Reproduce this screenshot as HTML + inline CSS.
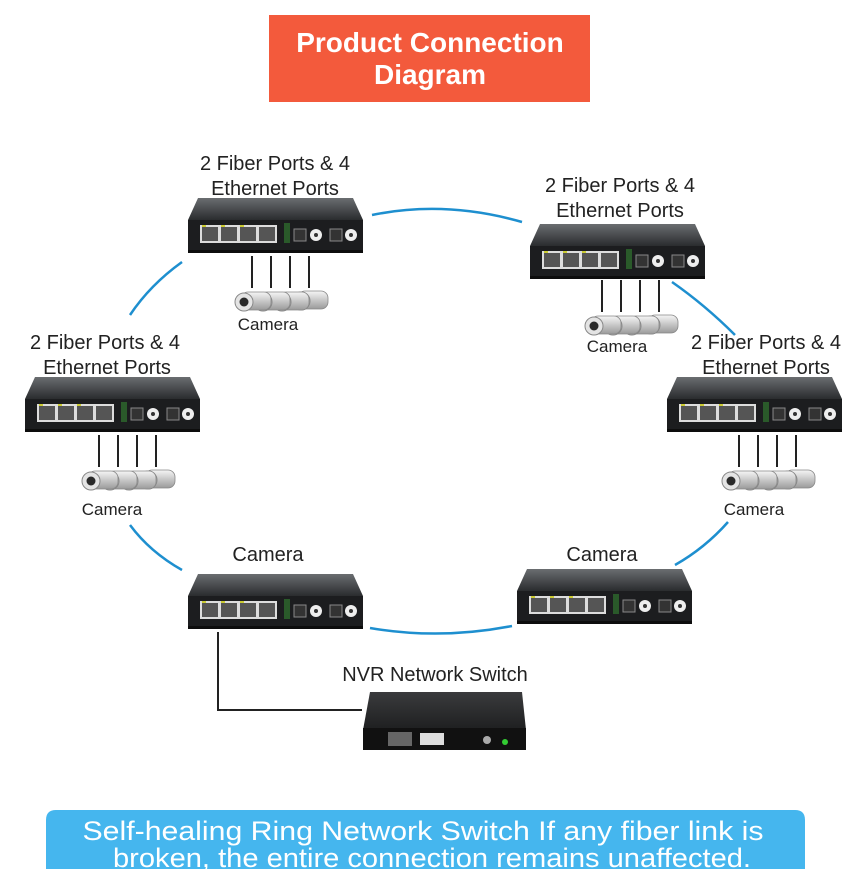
<!DOCTYPE html>
<html><head><meta charset="utf-8"><style>
html,body{margin:0;padding:0;background:#fff;}
svg{display:block;}
text{font-family:"Liberation Sans",sans-serif;}
</style></head><body>
<svg width="862" height="869" viewBox="0 0 862 869" xmlns="http://www.w3.org/2000/svg">
<defs>
<linearGradient id="top" x1="0" y1="0" x2="0" y2="1"><stop offset="0" stop-color="#6a6d70"/><stop offset="1" stop-color="#2a2c2e"/></linearGradient>
<linearGradient id="cam" x1="0" y1="0" x2="0" y2="1"><stop offset="0" stop-color="#f6f6f6"/><stop offset="1" stop-color="#9a9a9a"/></linearGradient>
<linearGradient id="nvr" x1="0" y1="0" x2="0" y2="1"><stop offset="0" stop-color="#3a3b3d"/><stop offset="1" stop-color="#1e1f20"/></linearGradient>
<g id="sw">
<polygon points="10,0 165,0 175,22 0,22" fill="url(#top)"/>
<rect x="0" y="22" width="175" height="33" fill="#1c1d1f"/>
<rect x="0" y="52" width="175" height="3" fill="#0d0d0d"/>
<g fill="#555" stroke="#ddd" stroke-width="2">
<rect x="13" y="28" width="18" height="16"/><rect x="32" y="28" width="18" height="16"/><rect x="51" y="28" width="18" height="16"/><rect x="70" y="28" width="18" height="16"/>
</g>
<rect x="14" y="27" width="4" height="2" fill="#cc3"/><rect x="33" y="27" width="4" height="2" fill="#cc3"/><rect x="52" y="27" width="4" height="2" fill="#cc3"/>
<rect x="96" y="25" width="6" height="20" fill="#2a5a2a"/>
<rect x="106" y="31" width="12" height="12" fill="#333" stroke="#888"/>
<circle cx="128" cy="37" r="6" fill="#eee"/><circle cx="128" cy="37" r="2" fill="#333"/>
<rect x="142" y="31" width="12" height="12" fill="#333" stroke="#888"/>
<circle cx="163" cy="37" r="6" fill="#eee"/><circle cx="163" cy="37" r="2" fill="#333"/>
</g>
<g id="c1">
<rect x="6" y="-3" width="30" height="18" rx="7" fill="url(#cam)" stroke="#888" stroke-width="0.8"/>
<circle cx="9" cy="7" r="9" fill="#e4e4e4" stroke="#888"/>
<circle cx="9" cy="7" r="4.5" fill="#2a2a2a"/>
</g>
<g id="cams">
<line x1="12" y1="0" x2="12" y2="32" stroke="#222" stroke-width="2"/>
<line x1="31" y1="0" x2="31" y2="32" stroke="#222" stroke-width="2"/>
<line x1="50" y1="0" x2="50" y2="32" stroke="#222" stroke-width="2"/>
<line x1="69" y1="0" x2="69" y2="32" stroke="#222" stroke-width="2"/>
<use href="#c1" x="52" y="38"/><use href="#c1" x="33" y="39"/><use href="#c1" x="14" y="39"/><use href="#c1" x="-5" y="39"/>
</g>
</defs>

<rect x="269" y="15" width="321" height="87" fill="#f35a3c"/>
<text x="430" y="52" text-anchor="middle" font-size="28" font-weight="bold" fill="#fff">Product Connection</text>
<text x="430" y="84" text-anchor="middle" font-size="28" font-weight="bold" fill="#fff">Diagram</text>

<g fill="none" stroke="#1e8fcf" stroke-width="2.5">
<path d="M372,215 Q445,200 522,222"/>
<path d="M672,282 Q705,305 735,335"/>
<path d="M182,262 Q150,285 130,315"/>
<path d="M130,525 Q150,552 182,570"/>
<path d="M728,522 Q705,548 675,565"/>
<path d="M370,628 Q440,640 512,626"/>
</g>

<g font-size="20" fill="#222" text-anchor="middle">
<text x="275" y="170">2 Fiber Ports &amp; 4</text><text x="275" y="195">Ethernet Ports</text>
<text x="620" y="192">2 Fiber Ports &amp; 4</text><text x="620" y="217">Ethernet Ports</text>
<text x="105" y="349">2 Fiber Ports &amp; 4</text><text x="107" y="374">Ethernet Ports</text>
<text x="766" y="349">2 Fiber Ports &amp; 4</text><text x="766" y="374">Ethernet Ports</text>
<text x="268" y="561">Camera</text>
<text x="602" y="561">Camera</text>
<text x="435" y="681">NVR Network Switch</text>
</g>
<g font-size="17" fill="#222" text-anchor="middle">
<text x="268" y="330">Camera</text>
<text x="617" y="352">Camera</text>
<text x="112" y="515">Camera</text>
<text x="754" y="515">Camera</text>
</g>

<use href="#sw" x="188" y="198"/>
<use href="#sw" x="530" y="224"/>
<use href="#sw" x="25" y="377"/>
<use href="#sw" x="667" y="377"/>
<use href="#sw" x="188" y="574"/>
<use href="#sw" x="517" y="569"/>

<use href="#cams" x="240" y="256"/>
<use href="#cams" x="590" y="280"/>
<use href="#cams" x="87" y="435"/>
<use href="#cams" x="727" y="435"/>

<polyline points="218,632 218,710 362,710" fill="none" stroke="#222" stroke-width="2"/>
<polygon points="370,692 522,692 526,730 363,730" fill="url(#nvr)"/>
<rect x="363" y="728" width="163" height="22" fill="#111"/>
<rect x="388" y="732" width="24" height="14" fill="#666"/>
<rect x="420" y="733" width="24" height="12" fill="#ddd"/>
<circle cx="487" cy="740" r="4" fill="#aaa"/><circle cx="505" cy="742" r="3" fill="#3c3"/>

<path d="M46,820 Q46,810 56,810 L795,810 Q805,810 805,820 L805,869 L46,869 Z" fill="#45b6ee"/>
<text x="423" y="840" text-anchor="middle" font-size="27" fill="#fff" textLength="681" lengthAdjust="spacingAndGlyphs">Self-healing Ring Network Switch If any fiber link is</text>
<text x="432" y="867" text-anchor="middle" font-size="27" fill="#fff" textLength="638" lengthAdjust="spacingAndGlyphs">broken, the entire connection remains unaffected.</text>
</svg>
</body></html>
